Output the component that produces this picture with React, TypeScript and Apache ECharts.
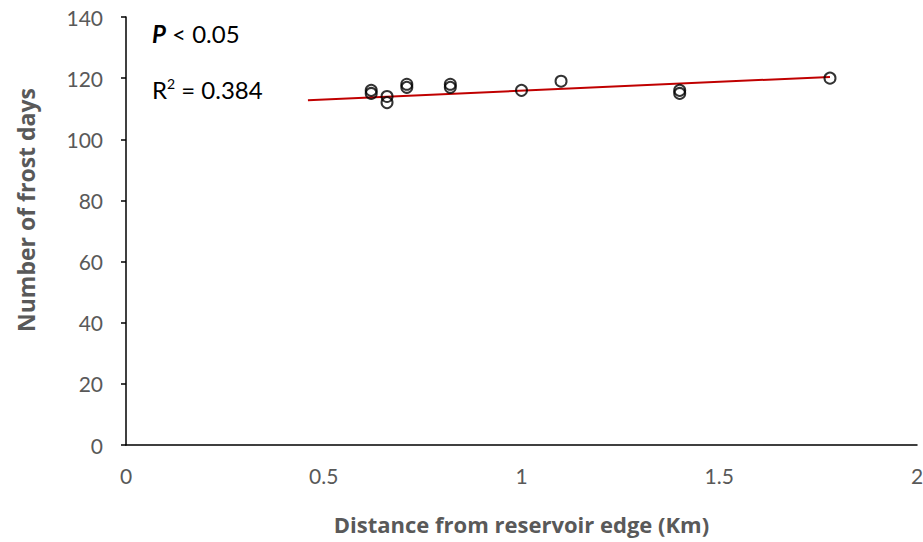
import React, { useEffect, useRef } from "react";
import * as echarts from "echarts";

const distanceKm = [0.62, 0.62, 0.66, 0.66, 0.71, 0.71, 0.82, 0.82, 1.0, 1.1, 1.4, 1.4, 1.78];
const frostDays = [116, 115, 114, 112, 118, 117, 118, 117, 116, 119, 116, 115, 120];
const trendX = [0.46, 1.78];
const trendY = [112.8, 120.4];

const xTitle = "Distance from reservoir edge (Km)";
const yTitle = "Number of frost days";
const pText = "P";
const pRest = " < 0.05";
const r2Text = "0.384";

const FONT = "Lato, 'Open Sans', sans-serif";
const TITLE_FONT = "'Open Sans', sans-serif";
const GRAY = "#595959";

export default function App() {
  const ref = useRef<HTMLDivElement>(null);
  useEffect(() => {
    if (!ref.current) return;
    const chart = echarts.init(ref.current, undefined, { renderer: "svg" });
    chart.setOption({
      animation: false,
      backgroundColor: "#ffffff",
      textStyle: { fontFamily: FONT },
      grid: { left: 126, right: 6, top: 17, bottom: 97, containLabel: false, outerBoundsMode: "none" },
      xAxis: {
        type: "value",
        min: 0,
        max: 2,
        interval: 0.5,
        name: xTitle,
        nameLocation: "middle",
        nameGap: 68,
        nameTextStyle: { color: GRAY, fontSize: 22, fontWeight: "bold", fontFamily: TITLE_FONT },
        axisLine: { show: true, onZero: false, lineStyle: { color: "#000", width: 1.5 } },
        axisTick: { show: false },
        splitLine: { show: false },
        axisLabel: { color: GRAY, fontSize: 21, margin: 20, fontFamily: FONT },
      },
      yAxis: {
        type: "value",
        min: 0,
        max: 140,
        interval: 20,
        name: yTitle,
        nameLocation: "middle",
        nameGap: 89,
        nameTextStyle: {
          color: GRAY,
          fontSize: 23,
          fontWeight: "bold",
          fontFamily: TITLE_FONT,
          padding: [0, 0, 0, 42],
        },
        axisLine: { show: true, lineStyle: { color: "#000", width: 1.5 } },
        axisTick: { show: true, inside: false, length: 5, lineStyle: { color: "#000", width: 1.5 } },
        splitLine: { show: false },
        axisLabel: { color: GRAY, fontSize: 21, margin: 23, fontFamily: FONT },
      },
      series: [
        {
          type: "line",
          data: trendX.map((x, i) => [x, trendY[i]]),
          showSymbol: false,
          symbol: "none",
          lineStyle: { color: "#C00000", width: 2 },
          z: 2,
        },
        {
          type: "scatter",
          data: distanceKm.map((x, i) => [x, frostDays[i]]),
          symbol: "circle",
          symbolSize: 11,
          itemStyle: { color: "rgba(255,255,255,0)", borderColor: "#000", borderWidth: 2 },
          z: 3,
        },
      ],
      graphic: [
        {
          type: "text",
          left: 152,
          top: 21,
          style: {
            text: `{b|${pText}}{n|${pRest}}`,
            rich: {
              b: { fontSize: 24, fontWeight: "bold", fontStyle: "italic", fill: "#000", fontFamily: FONT },
              n: { fontSize: 24, fill: "#000", fontFamily: FONT },
            },
          },
        },
        {
          type: "text",
          left: 152,
          top: 76,
          style: {
            text: `{n|R}{s|2}{n| = ${r2Text}}`,
            rich: {
              n: { fontSize: 24, fill: "#000", fontFamily: FONT, verticalAlign: "bottom" },
              s: { fontSize: 14, fill: "#000", fontFamily: FONT, verticalAlign: "top", padding: [0, 0, 11, 0] },
            },
          },
        },
      ],
    });
    return () => chart.dispose();
  }, []);
  return <div ref={ref} style={{ width: "100vw", height: "100vh", position: "fixed", left: 0, top: 0 }} />;
}
